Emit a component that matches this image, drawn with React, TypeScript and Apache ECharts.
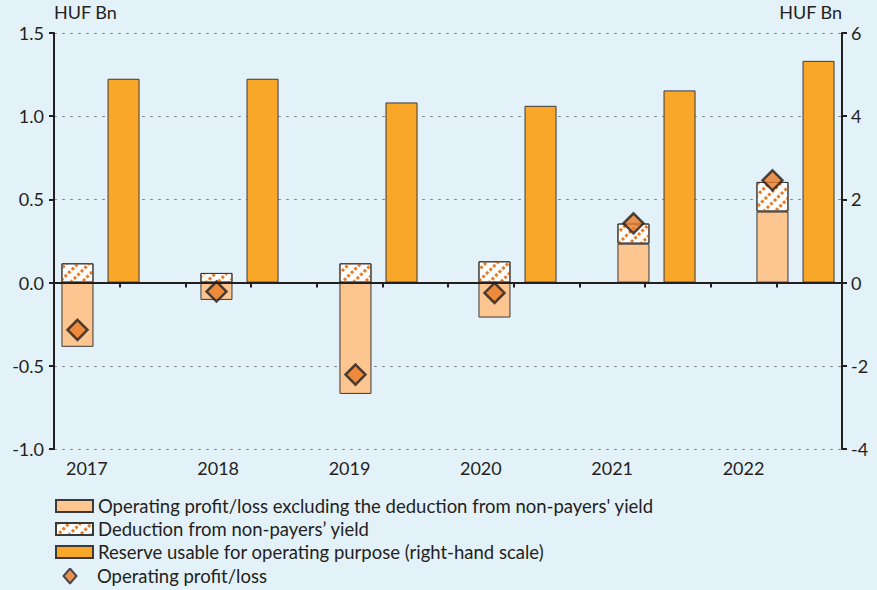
import React, { useEffect, useRef } from "react";
import * as echarts from "echarts";

const categories = ["2017", "2018", "2019", "2020", "2021", "2022"];
const profitExclDeduction = [-0.386, -0.104, -0.669, -0.21, 0.234, 0.427];
const deduction = [0.116, 0.058, 0.116, 0.128, 0.121, 0.178];
const reserve = [4.9, 4.9, 4.33, 4.25, 4.62, 5.33];
const operatingProfit = [-0.284, -0.054, -0.553, -0.062, 0.356, 0.615];

const leftMin = -1.0, leftMax = 1.5, leftInterval = 0.5;
const rightMin = -4, rightMax = 6, rightInterval = 2;

const S1 = "Operating profit/loss excluding the deduction from non-payers' yield";
const S2 = "Deduction from non-payers\u2019 yield";
const S3 = "Reserve usable for operating purpose (right-hand scale)";
const S4 = "Operating profit/loss";

const FONT = "Lato";
const FS = 18;
const LFS = 18.5;
const TXT = "#231f20";
const AXIS = "#231f20";
const DIAMOND = "#E87B27";

const diamondIconSvg =
  "<svg xmlns='http://www.w3.org/2000/svg' width='37' height='17' viewBox='0 0 37 17'>" +
  "<polygon points='15,1 21.5,8.5 15,16 8.5,8.5' fill='" + DIAMOND + "' stroke='" + AXIS + "' stroke-width='2'/></svg>";
const diamondIcon = "image://data:image/svg+xml;charset=utf-8," + encodeURIComponent(diamondIconSvg);

export default function App() {
  const ref = useRef<HTMLDivElement>(null);
  useEffect(() => {
    if (!ref.current) return;
    const chart = echarts.init(ref.current, undefined, { renderer: "svg" });
    const labelSlots = categories.flatMap((c) => [c, ""]);
    const top = 33, bottom = 590 - 449;
    const legendText = { fontSize: LFS, color: TXT, fontFamily: FONT, lineHeight: 20 };
    const option: any = {
      animation: false,
      backgroundColor: "#E3F1F9",
      textStyle: { fontFamily: FONT, color: TXT },
      grid: [
        { left: 54, right: 35, top, bottom, containLabel: false },
        { left: 31, right: 12, top, bottom, containLabel: false },
      ],
      xAxis: [
        {
          gridIndex: 0, type: "category", data: labelSlots, position: "bottom",
          axisLine: { show: false, onZero: false }, axisTick: { show: false },
          axisLabel: { interval: 0, fontSize: FS, color: TXT, margin: 10, fontFamily: FONT },
          splitLine: { show: false },
        },
        {
          gridIndex: 0, type: "category", data: labelSlots, position: "top", z: 10,
          axisLine: { show: true, onZero: true, onZeroAxisIndex: 0, lineStyle: { color: AXIS, width: 2 } },
          axisTick: { show: true, interval: 0, inside: true, length: 5, lineStyle: { color: AXIS, width: 2 } },
          axisLabel: { show: false }, splitLine: { show: false },
        },
        { gridIndex: 1, type: "category", data: categories, show: false },
      ],
      yAxis: [
        {
          gridIndex: 0, type: "value", min: leftMin, max: leftMax, interval: leftInterval,
          name: "HUF Bn", nameLocation: "end", nameGap: 12,
          nameTextStyle: { align: "left", fontSize: FS, color: TXT, fontFamily: FONT },
          axisLine: { show: true, onZero: false, lineStyle: { color: AXIS, width: 2 } },
          axisTick: { show: true, length: 5, lineStyle: { color: AXIS, width: 2 } },
          axisLabel: { fontSize: FS, color: TXT, margin: 10, fontFamily: FONT, formatter: (v: number) => v.toFixed(1) },
          splitLine: { show: true, lineStyle: { color: "#8a8f93", type: [3, 5], width: 1 } },
        },
        {
          gridIndex: 0, type: "value", min: rightMin, max: rightMax, interval: rightInterval, position: "right",
          name: "HUF Bn", nameLocation: "end", nameGap: 12,
          nameTextStyle: { align: "right", fontSize: FS, color: TXT, fontFamily: FONT },
          axisLine: { show: true, onZero: false, lineStyle: { color: AXIS, width: 2 } },
          axisTick: { show: true, length: 5, lineStyle: { color: AXIS, width: 2 } },
          axisLabel: { fontSize: FS, color: TXT, margin: 9, fontFamily: FONT },
          splitLine: { show: false },
        },
        { gridIndex: 1, type: "value", min: leftMin, max: leftMax, interval: leftInterval, show: false, splitLine: { show: false } },
        { gridIndex: 1, type: "value", min: rightMin, max: rightMax, interval: rightInterval, show: false, splitLine: { show: false } },
      ],
      legend: [
        {
          left: 55, top: 496, orient: "vertical", itemWidth: 37, itemHeight: 12, itemGap: 3,
          padding: 0, textStyle: legendText,
          data: [
            { name: S1, icon: "rect" },
            { name: S2, icon: "rect" },
            { name: S3, icon: "rect" },
          ],
        },
        {
          left: 55, top: 566, orient: "vertical", itemWidth: 37, itemHeight: 17, itemGap: 3,
          padding: 0, textStyle: legendText,
          data: [{ name: S4, icon: diamondIcon }],
        },
      ],
      series: [
        {
          name: S1, type: "bar", xAxisIndex: 2, yAxisIndex: 2, stack: "op", barWidth: 32,
          data: profitExclDeduction,
          itemStyle: { color: "#FDC590", borderColor: "#3a3a3a", borderWidth: 1 },
        },
        {
          name: S2, type: "bar", xAxisIndex: 2, yAxisIndex: 2, stack: "op", barWidth: 32,
          data: deduction,
          itemStyle: {
            color: "#FFFFFF", borderColor: "#3a3a3a", borderWidth: 1,
            decal: {
              symbol: "rect", symbolSize: 1, color: DIAMOND, backgroundColor: null,
              dashArrayX: [[2.5, 1.5]], dashArrayY: [2.5, 5], rotation: -Math.PI / 4,
            },
          },
        },
        {
          name: S3, type: "bar", xAxisIndex: 2, yAxisIndex: 3, barWidth: 32, barGap: "44%",
          data: reserve,
          itemStyle: { color: "#F9A728", borderColor: "#3a3a3a", borderWidth: 1 },
        },
        {
          name: S4, type: "scatter", xAxisIndex: 2, yAxisIndex: 2, symbol: "diamond",
          symbolSize: 20, symbolOffset: [-23, 0], z: 5,
          data: operatingProfit,
          itemStyle: { color: DIAMOND, borderColor: AXIS, borderWidth: 2.5 },
        },
      ],
    };
    chart.setOption(option);
    return () => chart.dispose();
  }, []);
  return <div ref={ref} style={{ width: 877, height: 590, position: "absolute", left: 0, top: 0 }} />;
}
